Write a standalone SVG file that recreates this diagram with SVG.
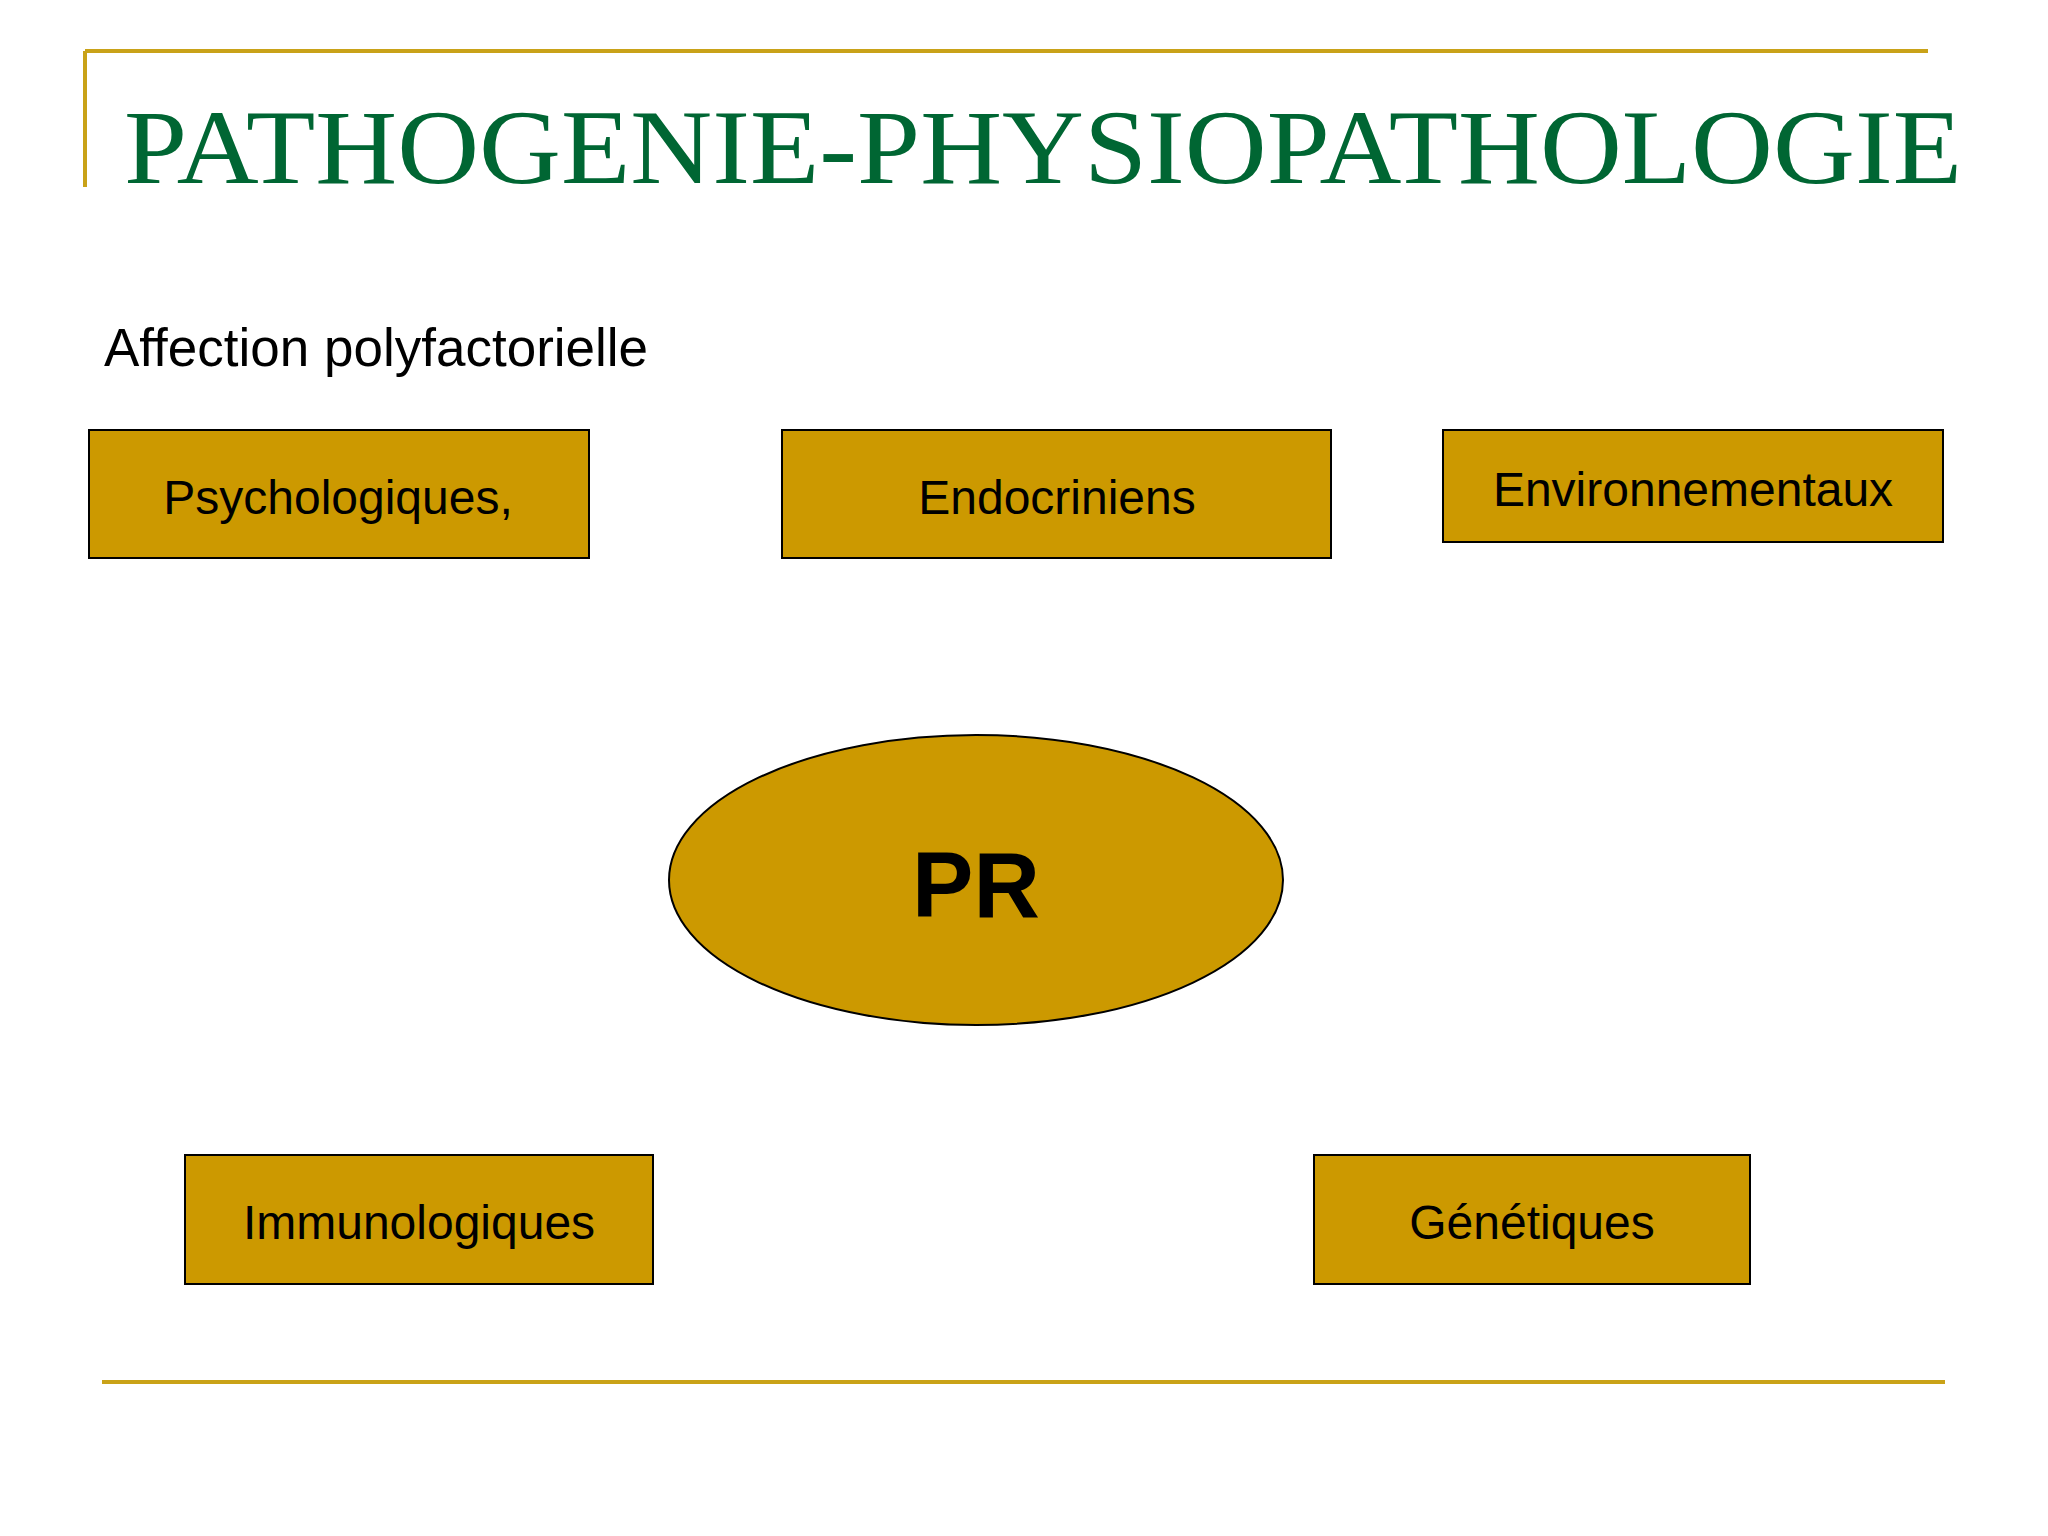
<svg xmlns="http://www.w3.org/2000/svg" width="2048" height="1536" viewBox="0 0 2048 1536">
<style>
.box{fill:#CC9900;stroke:#000;stroke-width:2}
.lbl{font-family:"Liberation Sans",Arial,sans-serif;font-size:48px;fill:#000;text-anchor:middle}
.rule{stroke:#C9A218;stroke-width:4;fill:none}
</style>
<rect width="2048" height="1536" fill="#fff"/>
<path class="rule" d="M85 51H1928M85 51V187M102 1382H1945"/>
<text x="124" y="183" font-family="Liberation Serif,Times New Roman,serif" font-size="106" fill="#006633" textLength="1838" lengthAdjust="spacingAndGlyphs">PATHOGENIE-PHYSIOPATHOLOGIE</text>
<text x="104" y="366" font-family="Liberation Sans,Arial,sans-serif" font-size="53" fill="#000">Affection polyfactorielle</text>
<g id="psycho"><rect class="box" x="89" y="430" width="500" height="128"/><text class="lbl" x="338" y="514">Psychologiques,</text></g>
<g id="endo"><rect class="box" x="782" y="430" width="549" height="128"/><text class="lbl" x="1057" y="514">Endocriniens</text></g>
<g id="env"><rect class="box" x="1443" y="430" width="500" height="112"/><text class="lbl" x="1693" y="506">Environnementaux</text></g>
<g id="pr"><ellipse class="box" cx="976" cy="880" rx="307" ry="145"/><text x="976" y="917" font-family="Liberation Sans,Arial,sans-serif" font-size="92" font-weight="bold" text-anchor="middle">PR</text></g>
<g id="immuno"><rect class="box" x="185" y="1155" width="468" height="129"/><text class="lbl" x="419" y="1239">Immunologiques</text></g>
<g id="gen"><rect class="box" x="1314" y="1155" width="436" height="129"/><text class="lbl" x="1532" y="1239">Génétiques</text></g>
<g id="connectors"/>
</svg>
